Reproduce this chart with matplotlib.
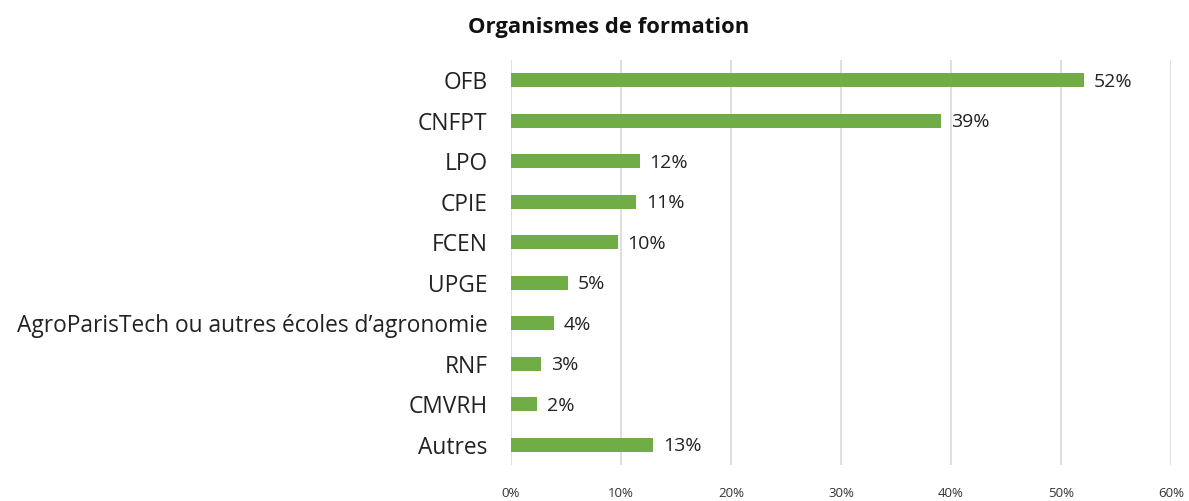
import matplotlib
matplotlib.use("Agg")
import matplotlib.pyplot as plt
import numpy as np

categories = ["OFB", "CNFPT", "LPO", "CPIE", "FCEN", "UPGE",
              "AgroParisTech ou autres écoles d\u2019agronomie",
              "RNF", "CMVRH", "Autres"]
values = [52.1, 39.1, 11.7, 11.4, 9.7, 5.2, 3.9, 2.7, 2.4, 12.9]
labels = ["52%", "39%", "12%", "11%", "10%", "5%", "4%", "3%", "2%", "13%"]
ticks = [0, 10, 20, 30, 40, 50, 60]

plt.rcParams['font.family'] = ['Open Sans', 'DejaVu Sans']

fig = plt.figure(figsize=(11.89, 5.01), dpi=100)
ax = fig.add_axes([0.4298, 0.072, 0.5551, 0.808])

y = np.arange(len(categories))
ax.barh(y, values, height=0.35, color="#70AD47", zorder=3)
for yi, v, lab in zip(y, values, labels):
    ax.text(v + 0.9, yi + 0.04, lab, va="center", ha="left", fontsize=14, color="#222222")

ax.set_ylim(len(categories) - 0.5, -0.5)
ax.set_xlim(0, 60)
ax.set_yticks(y)
ax.set_yticklabels(categories, fontsize=16.4, color="#222222")
ax.set_xticks(ticks)
ax.set_xticklabels([f"{t}%" for t in ticks], fontsize=9.5, color="#333333")
ax.tick_params(axis="y", length=0, pad=17)
ax.tick_params(axis="x", length=0, pad=16)
ax.grid(axis="x", color="#D9D9D9", linewidth=1.2, zorder=0)
for s in ax.spines.values():
    s.set_visible(False)

fig.text(0.512, 0.945, "Organismes de formation", ha="center", va="center",
         fontsize=15.8, fontweight="bold", color="#111111")

fig.savefig("out.png", dpi=100)
